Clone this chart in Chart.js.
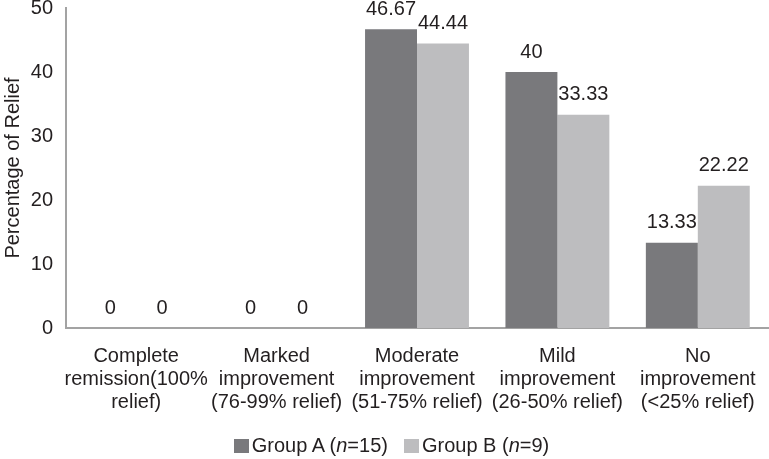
<!DOCTYPE html>
<html>
<head>
<meta charset="utf-8">
<script src="https://cdn.jsdelivr.net/npm/chart.js@4/dist/chart.umd.min.js"></script>
<style>
	body { margin: 0; background: #fff; }
	#wrap { position: relative; width: 769px; height: 459px; }
	#legend {
		position: absolute; left: 14px; top: 434px; width: 755px;
		display: flex; justify-content: center; align-items: center;
		font-family: "Liberation Sans", Arial, sans-serif; font-size: 20px; color: #231f20;
	}
	#legend span.item { display: flex; align-items: center; margin: 0 8px; }
	#legend span.box { display: inline-block; width: 15px; height: 14px; margin-right: 3px; }
</style>
</head>
<body>
<div id="wrap">
	<canvas id="chart" width="769" height="459"></canvas>
	<div id="legend">
		<span class="item"><span class="box" style="background:#79797c"></span>Group A (<i>n</i>=15)</span>
		<span class="item"><span class="box" style="background:#bdbdbf"></span>Group B (<i>n</i>=9)</span>
	</div>
</div>
<script>
const categories = [
	['Complete', 'remission(100%', 'relief)'],
	['Marked', 'improvement', '(76-99% relief)'],
	['Moderate', 'improvement', '(51-75% relief)'],
	['Mild', 'improvement', '(26-50% relief)'],
	['No', 'improvement', '(<25% relief)']
];
const groupA = [0, 0, 46.67, 40, 13.33];
const groupB = [0, 0, 44.44, 33.33, 22.22];
const seriesNames = ['Group A (n=15)', 'Group B (n=9)'];
const yTicks = [0, 10, 20, 30, 40, 50];

const FONT = '"Liberation Sans", Arial, sans-serif';
const TEXT = '#231f20';

// value labels above every bar
const valueLabels = {
	id: 'valueLabels',
	afterDatasetsDraw(chart) {
		const ctx = chart.ctx;
		ctx.save();
		ctx.font = '20px ' + FONT;
		ctx.fillStyle = TEXT;
		ctx.textAlign = 'center';
		ctx.textBaseline = 'middle';
		chart.data.datasets.forEach((ds, i) => {
			chart.getDatasetMeta(i).data.forEach((bar, j) => {
				ctx.fillText(String(ds.data[j]), bar.x, bar.y - 20);
			});
		});
		ctx.restore();
	}
};

new Chart(document.getElementById('chart'), {
	type: 'bar',
	plugins: [valueLabels],
	data: {
		labels: categories,
		datasets: [
			{ label: seriesNames[0], data: groupA, backgroundColor: '#79797c' },
			{ label: seriesNames[1], data: groupB, backgroundColor: '#bdbdbf' }
		]
	},
	options: {
		responsive: false,
		animation: false,
		layout: { padding: { top: 0, right: 1, left: 0, bottom: 36 } },
		plugins: { legend: { display: false }, tooltip: { enabled: false } },
		datasets: { bar: { barPercentage: 1, categoryPercentage: 0.74 } },
		scales: {
			x: {
				afterFit(scale) { scale.height = 95; },
				grid: { display: false },
				border: { color: '#a3a3a3', width: 2 },
				ticks: {
					color: TEXT, padding: 9, maxRotation: 0, autoSkip: false,
					font: { family: FONT, size: 20, lineHeight: 1.14 }
				}
			},
			y: {
				min: 0, max: 50,
				afterFit(scale) { scale.width = 66; },
				afterBuildTicks(scale) { scale.ticks = yTicks.map(v => ({ value: v })); },
				grid: { display: false },
				border: { color: '#a3a3a3', width: 2 },
				ticks: { color: TEXT, padding: 5, font: { family: FONT, size: 20, lineHeight: 0.3 } },
				title: {
					display: true, text: 'Percentage of Relief', color: TEXT,
					padding: { top: 1, bottom: 0 },
					font: { family: FONT, size: 20 }
				}
			}
		}
	}
});
</script>
</body>
</html>
